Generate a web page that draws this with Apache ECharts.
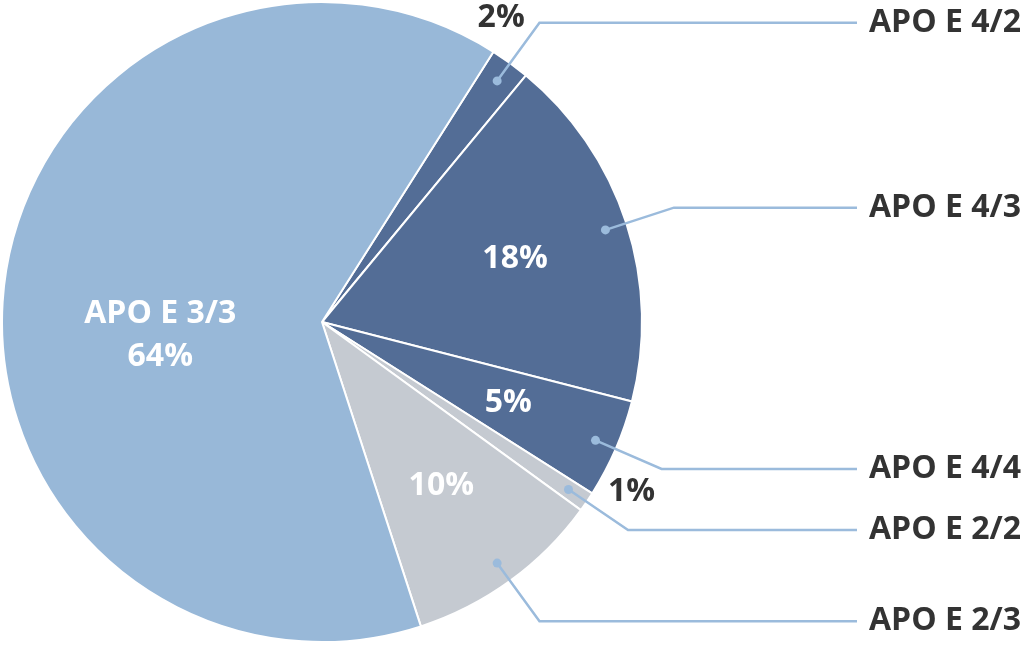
<!DOCTYPE html>
<html>
<head>
<meta charset="utf-8">
<script src="https://cdn.jsdelivr.net/npm/echarts@6/dist/echarts.min.js"></script>
<style>
html,body{margin:0;padding:0;background:#fff;}
#chart{width:1024px;height:647px;}
</style>
</head>
<body>
<div id="chart"></div>
<script>
// Data
const categories = ['APO E 4/2', 'APO E 4/3', 'APO E 4/4', 'APO E 2/2', 'APO E 2/3', 'APO E 3/3'];
const values = [2, 18, 5, 1, 10, 64];
const sliceColors = ['#536D96', '#536D96', '#536D96', '#C5CAD1', '#C5CAD1', '#98B8D8'];
const mainLabelled = ['APO E 3/3'];
const innerPctLabelled = ['APO E 4/3', 'APO E 4/4', 'APO E 2/3'];
const outerPctLabelled = ['APO E 4/2', 'APO E 2/2'];
const calloutLabelled = ['APO E 4/2', 'APO E 4/3', 'APO E 4/4', 'APO E 2/2', 'APO E 2/3'];

const FONT = '"Open Sans", "Noto Sans", sans-serif';
const FS = 32;
const DARK = '#333333';
const LINE = '#9BBBDC';
const CENTER = [322, 322];
const START = 57.6;

function mk(list, extra) {
  return categories.map((c, i) => Object.assign({
    name: c,
    value: values[i],
    label: { show: list.indexOf(c) >= 0 },
    labelLine: { show: list.indexOf(c) >= 0 }
  }, extra ? extra(i) : {}));
}

const chart = echarts.init(document.getElementById('chart'), null, { renderer: 'canvas' });
const base = {
  type: 'pie', center: CENTER, startAngle: START, clockwise: true,
  silent: true, animation: false, emphasis: { disabled: true }
};
const transparent = { color: 'rgba(0,0,0,0)', borderWidth: 0 };

chart.setOption({
  animation: false,
  series: [
    Object.assign({}, base, {
      name: 'main', radius: [0, 320], avoidLabelOverlap: false, z: 2,
      itemStyle: { borderColor: '#ffffff', borderWidth: 2 },
      label: {
        position: 'inside', formatter: '{b}\n{c}%', color: '#ffffff',
        fontFamily: FONT, fontWeight: 'bold', fontSize: FS, lineHeight: 43
      },
      labelLayout: { dy: 34 },
      labelLine: { show: false },
      data: mk(mainLabelled, i => ({ itemStyle: { color: sliceColors[i] } }))
    }),
    Object.assign({}, base, {
      name: 'innerPct', radius: [0, 400], avoidLabelOverlap: false, z: 3,
      itemStyle: transparent,
      label: { position: 'inside', formatter: '{c}%', color: '#ffffff',
        fontFamily: FONT, fontWeight: 'bold', fontSize: FS },
      labelLine: { show: false },
      data: mk(innerPctLabelled)
    }),
    Object.assign({}, base, {
      name: 'outerPct', radius: [320, 380], startAngle: START + 5.5, avoidLabelOverlap: false, z: 3,
      itemStyle: transparent,
      label: { position: 'inside', formatter: '{c}%', color: DARK,
        fontFamily: FONT, fontWeight: 'bold', fontSize: FS },
      labelLine: { show: false },
      data: mk(outerPctLabelled)
    }),
    Object.assign({}, base, {
      name: 'callouts', radius: [0, 295], avoidLabelOverlap: true, z: 4,
      itemStyle: transparent,
      label: { position: 'outside', alignTo: 'edge', edgeDistance: 3, distanceToLabelLine: 12,
        formatter: '{b}', color: DARK, fontFamily: FONT, fontWeight: 'bold', fontSize: FS },
      labelLine: { length: 75, length2: 10, lineStyle: { color: LINE, width: 2.5 } },
      data: mk(calloutLabelled)
    }),
    Object.assign({}, base, {
      name: 'dots', radius: [290, 300], avoidLabelOverlap: false, z: 5,
      itemStyle: transparent,
      label: { position: 'inside', formatter: '{d| }',
        rich: { d: { width: 9, height: 9, borderRadius: 4.5, backgroundColor: LINE, fontSize: 6, lineHeight: 9 } } },
      labelLine: { show: false },
      data: mk(calloutLabelled)
    })
  ]
});
</script>
</body>
</html>
